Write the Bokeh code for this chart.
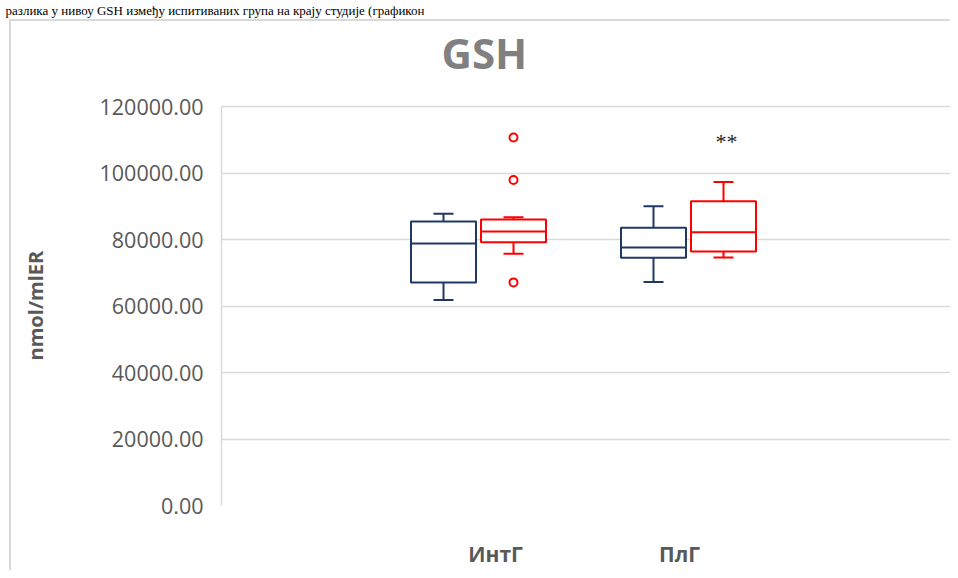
from bokeh.plotting import figure
from bokeh.models import Range1d, FixedTicker, NumeralTickFormatter, Label, Title
from bokeh.embed import file_html
from bokeh.resources import INLINE

# ---- data ----
categories = ["ИнтГ", "ПлГ"]
# series 1 (blue) five-number summaries per category
blue_min = [61800, 67200]
blue_q1 = [67100, 74500]
blue_med = [78800, 77600]
blue_q3 = [85400, 83500]
blue_max = [87750, 90000]
# series 2 (red)
red_min = [75700, 74600]
red_q1 = [79200, 76400]
red_med = [82400, 82200]
red_q3 = [86000, 91500]
red_max = [86700, 97300]
red_outlier_cat = [0, 0, 0]
red_outlier_val = [110700, 97900, 67100]
y_ticks = [0, 20000, 40000, 60000, 80000, 100000, 120000]
y_max = 120000
sig_cat = 1
sig_text = "**"
sig_value = 109500
chart_title = "GSH"
y_title = "nmol/mlER"
caption = "разлика у нивоу GSH између испитиваних група на крају студије (графикон"

# ---- layout ----
W, H = 950, 570
frame_top, axis_top, frame_bottom = 17, 106, 505     # canvas pixels
y_top = y_max * (frame_bottom - frame_top) / (frame_bottom - axis_top)
group_x = [4.78, 6.88]
label_x = [4.95, 6.79]
off = 0.35
box_w = 0.65
cap_w = 0.2
sig_dx = 0.03
title_x = 4.41
title_y = y_max * (frame_bottom - 52) / (frame_bottom - axis_top)
# pad (non-breaking spaces) so the rotated axis title sits centred on the 0..120000 span
y_title_pad = "\u00a0" * 17
BLUE = "#1F3864"
RED = "#FF0000"
GRID = "#D9D9D9"
TXT = "#595959"
FONT = "Open Sans"

p = figure(width=W, height=H, output_backend="svg", toolbar_location=None, title_location=None,
           x_range=Range1d(2.21, 9.50), y_range=Range1d(0, y_top),
           min_border_left=221, min_border_right=0, min_border_top=frame_top,
           min_border_bottom=H - frame_bottom)
p.outline_line_color = None
p.background_fill_color = None
p.border_fill_color = None
# light chart-area border (left and top), drawn by the page background
p.styles = {
    "background": ("linear-gradient(#D9D9D9, #D9D9D9) 9px 19px / 2px 100% no-repeat, "
                   "linear-gradient(#D9D9D9, #D9D9D9) 9px 19px / 100% 2px no-repeat, white"),
}

p.xgrid.visible = False
p.ygrid.grid_line_color = GRID
p.ygrid.grid_line_width = 1.5
p.yaxis.ticker = FixedTicker(ticks=y_ticks)
p.yaxis.bounds = (0, y_max)
p.yaxis.formatter = NumeralTickFormatter(format="0.00")
p.yaxis.axis_line_color = GRID
p.yaxis.axis_line_width = 1.5
p.yaxis.major_tick_line_color = None
p.yaxis.minor_tick_line_color = None
p.yaxis.major_tick_out = 0
p.yaxis.major_tick_in = 0
p.yaxis.minor_tick_out = 0
p.yaxis.major_label_text_font = FONT
p.yaxis.major_label_text_font_size = "21.5px"
p.yaxis.major_label_text_color = TXT
p.yaxis.major_label_standoff = 18
p.yaxis.axis_label = y_title + y_title_pad
p.yaxis.axis_label_text_font = FONT
p.yaxis.axis_label_text_font_size = "20px"
p.yaxis.axis_label_text_font_style = "bold"
p.yaxis.axis_label_text_color = TXT
p.yaxis.axis_label_standoff = 48

p.xaxis.ticker = FixedTicker(ticks=label_x)
p.xaxis.major_label_overrides = {label_x[i]: categories[i] for i in range(len(categories))}
p.xaxis.axis_line_color = None
p.xaxis.major_tick_line_color = None
p.xaxis.minor_tick_line_color = None
p.xaxis.major_tick_out = 0
p.xaxis.major_tick_in = 0
p.xaxis.minor_tick_out = 0
p.xaxis.major_label_text_font = FONT
p.xaxis.major_label_text_font_size = "21px"
p.xaxis.major_label_text_font_style = "bold"
p.xaxis.major_label_text_color = TXT
p.xaxis.major_label_standoff = 34


def draw_boxes(xs, lo, q1, med, q3, hi, color):
    p.vbar(x=xs, width=box_w, bottom=q1, top=q3, fill_color="white", line_color=color, line_width=2)
    p.segment(x0=[x - box_w / 2 for x in xs], x1=[x + box_w / 2 for x in xs], y0=med, y1=med,
              line_color=color, line_width=2)
    p.segment(x0=xs, x1=xs, y0=q3, y1=hi, line_color=color, line_width=2)
    p.segment(x0=xs, x1=xs, y0=q1, y1=lo, line_color=color, line_width=2)
    p.segment(x0=[x - cap_w / 2 for x in xs], x1=[x + cap_w / 2 for x in xs], y0=hi, y1=hi,
              line_color=color, line_width=2)
    p.segment(x0=[x - cap_w / 2 for x in xs], x1=[x + cap_w / 2 for x in xs], y0=lo, y1=lo,
              line_color=color, line_width=2)


bx = [g - off for g in group_x]
rx = [g + off for g in group_x]
draw_boxes(bx, blue_min, blue_q1, blue_med, blue_q3, blue_max, BLUE)
draw_boxes(rx, red_min, red_q1, red_med, red_q3, red_max, RED)
p.scatter(x=[rx[c] for c in red_outlier_cat], y=red_outlier_val, marker="circle", size=8,
          fill_color="white", line_color=RED, line_width=2)

# significance mark
p.add_layout(Label(x=rx[sig_cat] + sig_dx, y=sig_value, text=sig_text, text_align="center",
                   text_baseline="alphabetic", text_font="Liberation Serif",
                   text_font_size="22px", text_color="#222222"))

# chart title
p.add_layout(Label(x=title_x, y=title_y, text=chart_title, text_align="left",
                   text_baseline="alphabetic", text_font=FONT, text_font_size="42px",
                   text_font_style="bold", text_color="#808080"))

# caption line above the chart
p.add_layout(Title(text=caption, align="left", offset=-216, standoff=0,
                   text_font="Liberation Serif", text_font_size="13px", text_font_style="normal",
                   text_color="#000000"), "above")

open("out.html", "w").write(file_html(p, INLINE))
